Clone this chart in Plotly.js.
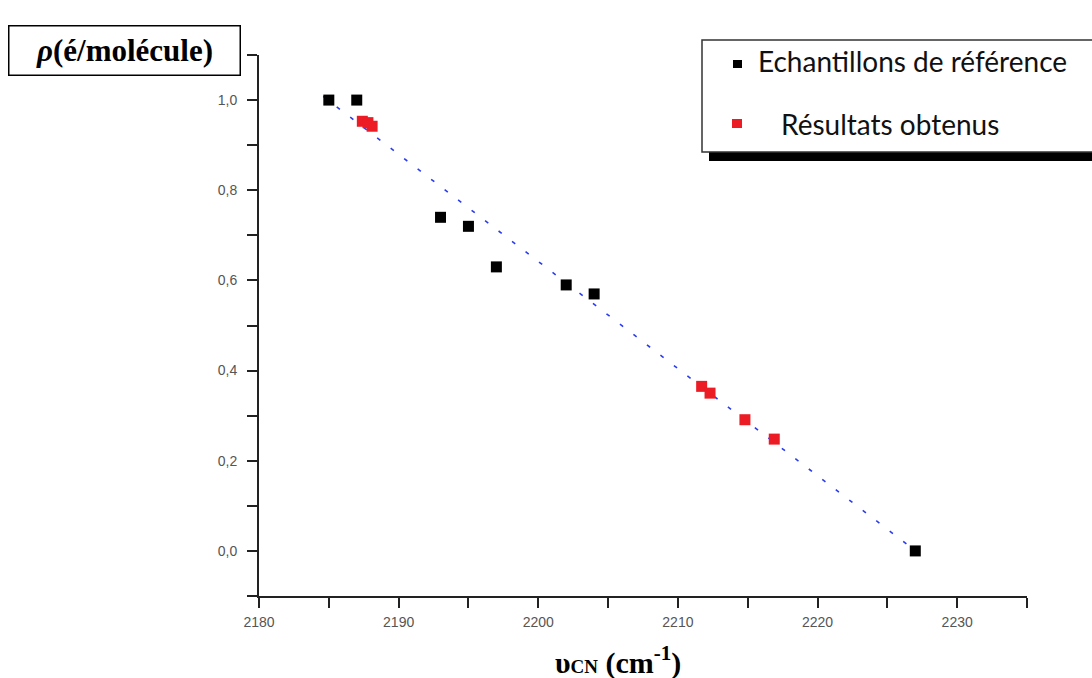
<!DOCTYPE html>
<html>
<head>
<meta charset="utf-8">
<script src="https://cdn.plot.ly/plotly-3.0.1.min.js"></script>
<style>html,body{margin:0;padding:0;background:#fff;}#chart{width:1092px;height:678px;}</style>
</head>
<body>
<div id="chart"></div>
<script>
// Reference samples (black)
const refX = [2185, 2187, 2193, 2195, 2197, 2202, 2204, 2227];
const refY = [1.00, 1.00, 0.74, 0.72, 0.63, 0.59, 0.57, 0.00];
// Obtained results (red)
const resX = [2187.4, 2187.8, 2188.1, 2211.7, 2212.3, 2214.8, 2216.9];
const resY = [0.953, 0.950, 0.942, 0.365, 0.350, 0.291, 0.248];
// Linear fit line (dotted blue) endpoints
const fitX = [2184.6, 2226.6];
const fitY = [1.008, 0.010];
// Labels
const legendLabels = ["Echantillons de référence", "Résultats obtenus"];
const yTitle = "<b><i>ρ</i>(é/molécule)</b>";
const xTitle = "<b>υ<span style='font-size:19px'>CN</span> (cm<sup>-1</sup>)</b>";

// pixel helpers for plot frame (l=259, r=1027, t=55, b=596)
const L = 259, R = 1027, T = 55, B = 596;
const px = v => (v - L) / (R - L);
const py = v => (B - v) / (B - T);

const traces = [
  {x: fitX, y: fitY, mode: 'lines', line: {color: '#2a3cf0', width: 1.6, dash: '4px,13px'}, showlegend: false, hoverinfo: 'skip'},
  {x: refX, y: refY, mode: 'markers', name: legendLabels[0], marker: {symbol: 'square', size: 11, color: '#000'}},
  {x: resX, y: resY, mode: 'markers', name: legendLabels[1], marker: {symbol: 'square', size: 11, color: '#ec1c24'}}
];

const tickFont = {family: 'Liberation Sans, Arial, sans-serif', size: 14, color: '#555'};

const layout = {
  width: 1092, height: 678,
  margin: {l: L, r: 1092 - R, t: T, b: 678 - B, pad: 0},
  paper_bgcolor: '#fff', plot_bgcolor: '#fff',
  separators: ',.',
  showlegend: false,
  xaxis: {
    range: [2180, 2235], showgrid: false, zeroline: false,
    showline: true, linecolor: '#222', linewidth: 2, mirror: false,
    ticks: 'outside', ticklen: 10, tickwidth: 2, tickcolor: '#222',
    dtick: 10, tick0: 2180, tickformat: 'd', tickfont: tickFont, ticklabelstandoff: 2,
    minor: {dtick: 5, tick0: 2180, ticks: 'outside', ticklen: 10, tickwidth: 2, tickcolor: '#222', showgrid: false}
  },
  yaxis: {
    range: [-0.1, 1.1], showgrid: false, zeroline: false,
    showline: true, linecolor: '#222', linewidth: 2,
    ticks: 'outside', ticklen: 10, tickwidth: 2, tickcolor: '#222',
    dtick: 0.2, tick0: 0, tickformat: '.1f', tickfont: tickFont, ticklabelstandoff: 7,
    minor: {dtick: 0.1, tick0: 0, ticks: 'outside', ticklen: 10, tickwidth: 2, tickcolor: '#222', showgrid: false}
  },
  shapes: [
    // legend shadow
    {type: 'rect', xref: 'paper', yref: 'paper', x0: px(709), x1: px(1100), y0: py(161), y1: py(152), fillcolor: '#000', line: {width: 0}},
    // legend box
    {type: 'rect', xref: 'paper', yref: 'paper', x0: px(702), x1: px(1100), y0: py(152), y1: py(40), fillcolor: '#fff', line: {color: '#333', width: 1.5}},
    // legend markers
    {type: 'rect', xref: 'paper', yref: 'paper', x0: px(733), x1: px(742), y0: py(68), y1: py(60), fillcolor: '#000', line: {width: 0}},
    {type: 'rect', xref: 'paper', yref: 'paper', x0: px(732), x1: px(742), y0: py(128), y1: py(119), fillcolor: '#ec1c24', line: {width: 0}}
  ],
  annotations: [
    {xref: 'paper', yref: 'paper', x: px(756), y: py(61), xanchor: 'left', yanchor: 'middle', showarrow: false,
     text: legendLabels[0], font: {family: 'Lato, Open Sans, sans-serif', size: 28, color: '#111'}},
    {xref: 'paper', yref: 'paper', x: px(779), y: py(124), xanchor: 'left', yanchor: 'middle', showarrow: false,
     text: legendLabels[1], font: {family: 'Lato, Open Sans, sans-serif', size: 28, color: '#111'}},
    {xref: 'paper', yref: 'paper', x: px(124.5), y: py(50.5), xanchor: 'center', yanchor: 'middle', showarrow: false,
     text: yTitle, width: 230, height: 48, bordercolor: '#000', borderwidth: 1.5, borderpad: 0, bgcolor: '#fff',
     font: {family: 'Liberation Serif, Times New Roman, serif', size: 31, color: '#000'}},
    {xref: 'paper', yref: 'paper', x: px(618), y: py(660), xanchor: 'center', yanchor: 'middle', showarrow: false,
     text: xTitle, font: {family: 'Liberation Serif, Times New Roman, serif', size: 30, color: '#000'}}
  ]
};

Plotly.newPlot('chart', traces, layout, {displayModeBar: false, staticPlot: true});
</script>
</body>
</html>
